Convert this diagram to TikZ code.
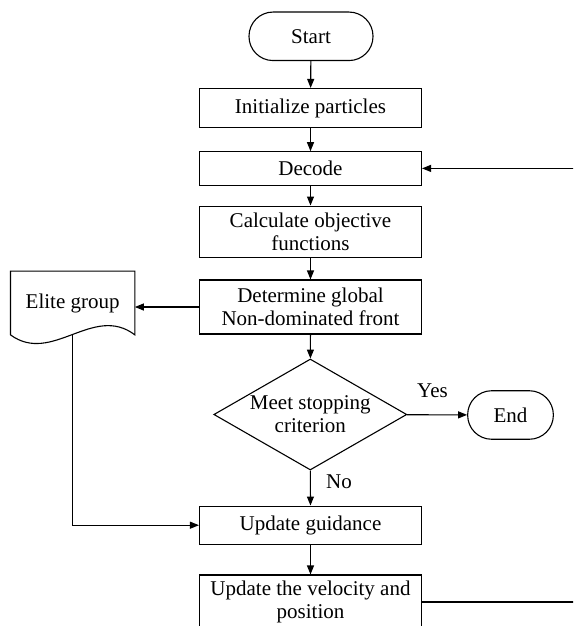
\documentclass[tikz,border=0pt]{standalone}
\usepackage{fontspec}
\setmainfont{Liberation Serif}
\usetikzlibrary{shapes.geometric,arrows.meta}
\begin{document}
\begin{tikzpicture}[x=1pt,y=-1pt,line width=1.1pt,
    >={Triangle[length=9pt,width=7pt]},
    every node/.style={font=\fontsize{21pt}{23pt}\selectfont,align=center,inner sep=0pt},
    box/.style={draw,minimum width=222pt},
    term/.style={draw,rounded corners=24pt,minimum height=48.5pt},
    cond/.style={draw,diamond,aspect=1.745,minimum width=193pt,minimum height=111pt}]
    \useasboundingbox (0,0) rectangle (573,626);
    \clip (0,0) rectangle (573,626);
    % main column
    \node[term,minimum width=124pt] (start) at (311,36.3) {Start};
    \node[box,minimum height=39pt] (init) at (310.5,108) {Initialize particles};
    \node[box,minimum height=33.3pt] (decode) at (310.5,168.4) {Decode};
    \node[box,minimum height=51.3pt] (calc) at (310.5,231.7) {Calculate objective\\functions};
    \node[box,minimum height=54pt] (front) at (310.5,307) {Determine global\\Non-dominated front};
    \node[cond] (stop) at (310.3,414.5) {Meet stopping\\criterion};
    \node[box,minimum height=38.3pt] (guide) at (310.5,525.2) {Update guidance};
    \node[box,minimum height=54pt] (vel) at (310.5,602) {Update the velocity and\\position};
    % side nodes
    \node[term,minimum width=85.7pt] (end) at (510.5,415) {End};
    \node[minimum width=123.3pt,minimum height=62.6pt] (elite) at (72.65,303) {Elite group};
    \draw (elite.north west) -- (elite.north east) -- (elite.south east)
        .. controls (93.2,303.3) and (52.1,365.3) .. (elite.south west) -- cycle;
    % labels
    \node (yes) at (432.5,391) {Yes};
    \node (no) at (339,482) {No};
    % loop ends
    \coordinate (loopin) at (585,168.4);
    \coordinate (loopout) at (585,602);
    % connectors
    \draw[->] (start) -- (init);
    \draw[->] (init) -- (decode);
    \draw[->] (decode) -- (calc);
    \draw[->] (calc) -- (front);
    \draw[->] (front) -- (stop);
    \draw[->] (stop) -- (guide);
    \draw[->] (guide) -- (vel);
    \draw[->] (stop) -- (end);
    \draw[->] (front.west) -- (front.west -| elite.east);
    \draw[->] (elite.south) |- (guide.west);
    \draw[->] (loopin) -- (decode.east);
    \draw (vel.east) -- (loopout);
\end{tikzpicture}
\end{document}
